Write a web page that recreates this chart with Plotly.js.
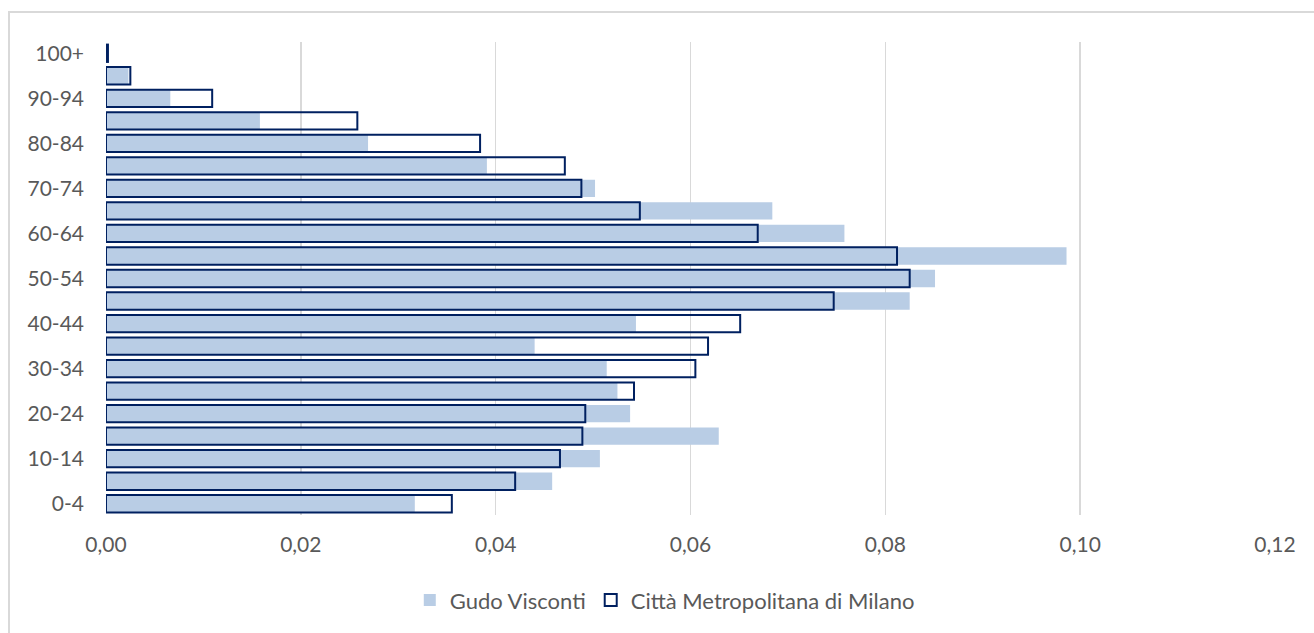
<!DOCTYPE html>
<html>
<head>
<meta charset="utf-8">
<script src="https://cdn.plot.ly/plotly-3.0.1.min.js"></script>
<style>
  html, body { margin: 0; padding: 0; background: #ffffff; }
  #wrap { position: relative; width: 1314px; height: 633px; overflow: hidden; }
  #chart { width: 1314px; height: 633px; }
  #frame { position: absolute; left: 8px; top: 11px; width: 1320px; height: 640px;
           border-left: 2px solid #d9d9d9; border-top: 2px solid #d9d9d9; pointer-events: none; }
</style>
</head>
<body>
<div id="wrap">
  <div id="chart"></div>
  <div id="frame"></div>
</div>
<script>
const categories = ["0-4","5-9","10-14","15-19","20-24","25-29","30-34","35-39","40-44","45-49",
                    "50-54","55-59","60-64","65-69","70-74","75-79","80-84","85-89","90-94","95-99","100+"];
const gudoVisconti = [0.0317,0.0458,0.0507,0.0629,0.0538,0.0525,0.0514,0.0440,0.0544,0.0825,
                      0.0851,0.0986,0.0758,0.0684,0.0502,0.0391,0.0269,0.0158,0.0066,0.0023,0.0000];
const cittaMetropolitana = [0.0355,0.0420,0.0466,0.0489,0.0492,0.0542,0.0605,0.0618,0.0651,0.0747,
                            0.0825,0.0812,0.0669,0.0548,0.0488,0.0471,0.0384,0.0258,0.0109,0.0025,0.0002];
const yTickLabels = ["0-4","10-14","20-24","30-34","40-44","50-54","60-64","70-74","80-84","90-94","100+"];
const xTickValues = [0, 0.02, 0.04, 0.06, 0.08, 0.10, 0.12];

const FAMILY = "Lato, 'Open Sans', sans-serif";
const TICKFONT = {family: FAMILY, size: 21, color: "#595959"};
const LEGENDFONT = {family: FAMILY, size: 22, color: "#595959"};

const traces = [
  {
    type: "bar", orientation: "h", name: "Gudo Visconti",
    y: categories, x: gudoVisconti,
    marker: {color: "#B9CDE5", line: {width: 0}},
    hoverinfo: "skip"
  },
  {
    type: "bar", orientation: "h", name: "Città Metropolitana di Milano",
    y: categories, x: cittaMetropolitana,
    marker: {color: "rgba(255,255,255,0)", line: {color: "#002060", width: 2}},
    hoverinfo: "skip"
  }
];

const layout = {
  width: 1314, height: 633,
  margin: {l: 106, r: 39, t: 42, b: 113},
  paper_bgcolor: "#ffffff", plot_bgcolor: "#ffffff",
  font: TICKFONT,
  separators: ",.",
  barmode: "overlay",
  bargap: 0.23,
  showlegend: true,
  legend: {
    orientation: "h", x: 0.478, xanchor: "center", y: -0.18, yanchor: "middle",
    font: LEGENDFONT, traceorder: "normal", itemclick: false
  },
  xaxis: {
    range: [0, 0.12], tickvals: xTickValues, tickformat: ".2f",
    showgrid: true, gridcolor: "#d9d9d9", gridwidth: 1.5,
    zeroline: false, showline: false, ticks: "",
    ticklabelstandoff: 15, tickfont: TICKFONT
  },
  yaxis: {
    type: "category", categoryorder: "array", categoryarray: categories,
    tickmode: "array", tickvals: yTickLabels, ticktext: yTickLabels,
    showgrid: false, zeroline: false, showline: false, ticks: "",
    ticklabelstandoff: 21, tickfont: TICKFONT
  }
};

Plotly.newPlot("chart", traces, layout, {displayModeBar: false, staticPlot: true});
</script>
</body>
</html>
